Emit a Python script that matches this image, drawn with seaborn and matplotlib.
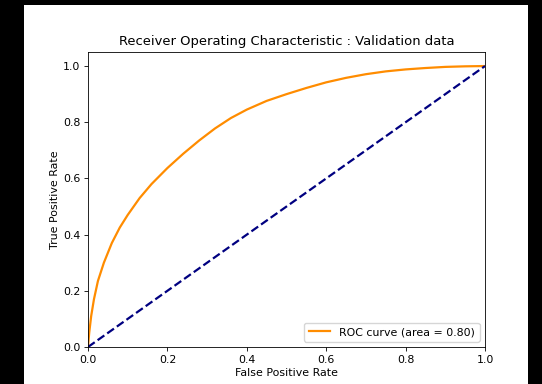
import pandas as pd
import seaborn as sns
import matplotlib.pyplot as plt
from matplotlib.patches import Rectangle

# ROC curve points
fpr = [0.0, 0.003, 0.008, 0.015, 0.025, 0.04, 0.06, 0.08, 0.10, 0.13,
       0.16, 0.20, 0.24, 0.28, 0.32, 0.36, 0.40, 0.45, 0.50, 0.55,
       0.60, 0.65, 0.70, 0.75, 0.80, 0.85, 0.90, 0.95, 1.0]
tpr = [0.0, 0.05, 0.11, 0.17, 0.235, 0.30, 0.37, 0.425, 0.47, 0.53,
       0.58, 0.637, 0.688, 0.735, 0.778, 0.815, 0.845, 0.876, 0.900, 0.922,
       0.942, 0.958, 0.971, 0.981, 0.988, 0.993, 0.997, 0.999, 1.0]
diag = [0.0, 1.0]
roc_auc = 0.80

roc_df = pd.DataFrame({"fpr": fpr, "tpr": tpr})
diag_df = pd.DataFrame({"x": diag, "y": diag})

fs = 7.9
plt.rcParams.update({"font.size": fs, "axes.titlesize": 9.45,
                     "axes.labelsize": fs, "xtick.labelsize": fs,
                     "ytick.labelsize": fs, "legend.fontsize": fs})

fig = plt.figure(figsize=(5.42, 3.84), dpi=100, facecolor="black")
# white figure area inside the black frame of the screenshot
fig.patches.append(Rectangle((24 / 542, 0), 504 / 542, 379 / 384,
                             transform=fig.transFigure, facecolor="white",
                             edgecolor="none", zorder=-1))
ax = fig.add_axes([88 / 542, 37 / 384, 397 / 542, 295 / 384])

sns.lineplot(data=roc_df, x="fpr", y="tpr", color="darkorange", lw=1.6,
             sort=False, estimator=None, label=f"ROC curve (area = {roc_auc:.2f})", ax=ax)
sns.lineplot(data=diag_df, x="x", y="y", color="navy", lw=1.6, linestyle="--",
             estimator=None, ax=ax)

ax.set_xlim(0.0, 1.0)
ax.set_ylim(0.0, 1.05)
ax.set_xlabel("False Positive Rate", labelpad=2.5)
ax.set_ylabel("True Positive Rate", labelpad=2.5)
ax.set_title("Receiver Operating Characteristic : Validation data", pad=4.7)
ax.tick_params(length=2.8, width=0.6, pad=2.7)
for s in ax.spines.values():
    s.set_linewidth(0.6)
ax.legend(loc="lower right")

fig.savefig("out.png", dpi=100, facecolor="black")
